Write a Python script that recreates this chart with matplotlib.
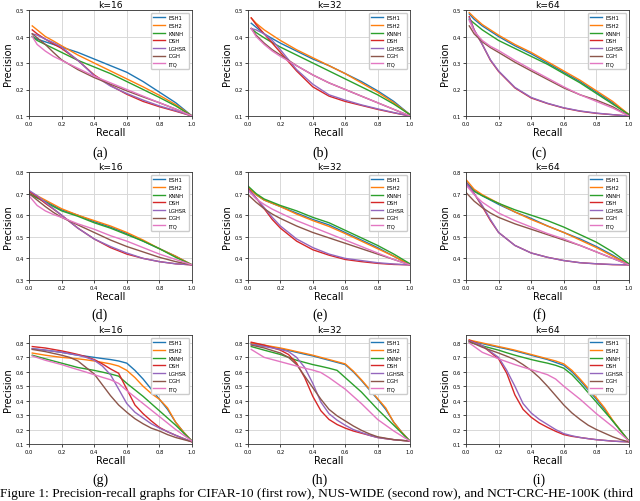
import matplotlib
matplotlib.use('Agg')
import matplotlib.pyplot as plt

plt.rcParams['font.family'] = 'DejaVu Sans'
plt.rcParams['xtick.labelsize'] = 3.8
plt.rcParams['ytick.labelsize'] = 3.8
plt.rcParams['axes.labelsize'] = 7
plt.rcParams['axes.titlesize'] = 6.6

methods = ['ESH1', 'ESH2', 'KNNH', 'DSH', 'LGHSR', 'DGH', 'ITQ']
colors = ['#1f77b4', '#ff7f0e', '#2ca02c', '#d62728', '#9467bd', '#8c564b', '#e377c2']

# recall grids per dataset (row)
recall_cifar = [0.02, 0.05, 0.1, 0.15, 0.2, 0.3, 0.4, 0.5, 0.6, 0.7, 0.8, 0.9, 1.0]
recall_nus = [0.0, 0.05, 0.1, 0.15, 0.2, 0.3, 0.4, 0.5, 0.6, 0.7, 0.8, 0.9, 1.0]
recall_nct = [0.02, 0.1, 0.2, 0.25, 0.3, 0.35, 0.4, 0.45, 0.5, 0.55, 0.6, 0.65,
              0.7, 0.75, 0.8, 0.85, 0.9, 0.95, 1.0]

# (a) CIFAR-10 k=16
prec_a = {
    'ESH1': [0.40, 0.39, 0.38, 0.37, 0.36, 0.34, 0.315, 0.29, 0.265, 0.23, 0.19, 0.15, 0.10],
    'ESH2': [0.44, 0.425, 0.40, 0.383, 0.365, 0.33, 0.30, 0.27, 0.24, 0.21, 0.178, 0.143, 0.10],
    'KNNH': [0.40, 0.385, 0.37, 0.355, 0.34, 0.31, 0.285, 0.26, 0.23, 0.20, 0.17, 0.138, 0.10],
    'DSH': [0.425, 0.41, 0.39, 0.372, 0.355, 0.31, 0.255, 0.215, 0.182, 0.155, 0.135, 0.118, 0.10],
    'LGHSR': [0.41, 0.405, 0.39, 0.377, 0.36, 0.31, 0.252, 0.213, 0.185, 0.16, 0.138, 0.12, 0.10],
    'DGH': [0.41, 0.395, 0.37, 0.34, 0.312, 0.275, 0.245, 0.22, 0.195, 0.172, 0.15, 0.126, 0.10],
    'ITQ': [0.40, 0.37, 0.345, 0.325, 0.31, 0.28, 0.25, 0.225, 0.20, 0.175, 0.15, 0.126, 0.10],
}
# (b) CIFAR-10 k=32
prec_b = {
    'ESH1': [0.45, 0.435, 0.41, 0.392, 0.375, 0.345, 0.315, 0.29, 0.26, 0.23, 0.195, 0.155, 0.105],
    'ESH2': [0.47, 0.45, 0.425, 0.405, 0.385, 0.35, 0.32, 0.29, 0.26, 0.225, 0.19, 0.15, 0.105],
    'KNNH': [0.43, 0.415, 0.395, 0.377, 0.36, 0.33, 0.30, 0.27, 0.24, 0.21, 0.18, 0.145, 0.105],
    'DSH': [0.47, 0.445, 0.41, 0.375, 0.34, 0.27, 0.21, 0.175, 0.155, 0.14, 0.125, 0.112, 0.10],
    'LGHSR': [0.43, 0.425, 0.41, 0.385, 0.35, 0.275, 0.22, 0.18, 0.16, 0.142, 0.127, 0.113, 0.10],
    'DGH': [0.43, 0.405, 0.375, 0.35, 0.33, 0.29, 0.255, 0.225, 0.20, 0.175, 0.15, 0.125, 0.10],
    'ITQ': [0.43, 0.40, 0.37, 0.345, 0.325, 0.29, 0.255, 0.225, 0.20, 0.175, 0.15, 0.125, 0.10],
}
# (c) CIFAR-10 k=64
prec_c = {
    'ESH1': [0.485, 0.465, 0.44, 0.42, 0.40, 0.365, 0.335, 0.30, 0.265, 0.23, 0.19, 0.15, 0.105],
    'ESH2': [0.49, 0.472, 0.445, 0.425, 0.405, 0.37, 0.34, 0.305, 0.27, 0.235, 0.195, 0.155, 0.105],
    'KNNH': [0.465, 0.45, 0.425, 0.405, 0.385, 0.355, 0.325, 0.295, 0.26, 0.225, 0.185, 0.145, 0.105],
    'DSH': [0.475, 0.425, 0.37, 0.31, 0.268, 0.206, 0.168, 0.147, 0.13, 0.118, 0.11, 0.105, 0.10],
    'LGHSR': [0.47, 0.425, 0.37, 0.312, 0.27, 0.208, 0.17, 0.148, 0.131, 0.119, 0.111, 0.105, 0.10],
    'DGH': [0.44, 0.41, 0.38, 0.358, 0.34, 0.303, 0.27, 0.238, 0.206, 0.18, 0.16, 0.135, 0.10],
    'ITQ': [0.46, 0.42, 0.385, 0.363, 0.347, 0.31, 0.276, 0.243, 0.21, 0.18, 0.155, 0.13, 0.10],
}
# (d) NUS-WIDE k=16
prec_d = {
    'ESH1': [0.70, 0.68, 0.665, 0.645, 0.625, 0.60, 0.57, 0.545, 0.515, 0.48, 0.445, 0.41, 0.37],
    'ESH2': [0.71, 0.69, 0.67, 0.65, 0.63, 0.60, 0.575, 0.55, 0.52, 0.485, 0.445, 0.41, 0.37],
    'KNNH': [0.70, 0.68, 0.66, 0.64, 0.62, 0.595, 0.565, 0.54, 0.51, 0.48, 0.445, 0.405, 0.37],
    'DSH': [0.71, 0.685, 0.655, 0.628, 0.60, 0.54, 0.49, 0.45, 0.42, 0.40, 0.385, 0.375, 0.37],
    'LGHSR': [0.715, 0.69, 0.66, 0.63, 0.60, 0.54, 0.49, 0.455, 0.425, 0.40, 0.385, 0.375, 0.37],
    'DGH': [0.70, 0.67, 0.64, 0.613, 0.59, 0.555, 0.52, 0.485, 0.455, 0.43, 0.405, 0.385, 0.37],
    'ITQ': [0.69, 0.645, 0.62, 0.603, 0.59, 0.56, 0.535, 0.505, 0.48, 0.45, 0.42, 0.395, 0.37],
}
# (e) NUS-WIDE k=32
prec_e = {
    'ESH1': [0.73, 0.695, 0.67, 0.655, 0.64, 0.61, 0.58, 0.555, 0.52, 0.485, 0.45, 0.41, 0.37],
    'ESH2': [0.73, 0.695, 0.67, 0.655, 0.64, 0.605, 0.575, 0.548, 0.515, 0.48, 0.445, 0.41, 0.37],
    'KNNH': [0.735, 0.70, 0.675, 0.66, 0.645, 0.62, 0.59, 0.565, 0.53, 0.495, 0.46, 0.42, 0.375],
    'DSH': [0.725, 0.68, 0.63, 0.58, 0.54, 0.48, 0.44, 0.415, 0.395, 0.385, 0.377, 0.372, 0.37],
    'LGHSR': [0.72, 0.68, 0.635, 0.59, 0.55, 0.49, 0.45, 0.42, 0.40, 0.39, 0.38, 0.374, 0.37],
    'DGH': [0.695, 0.66, 0.63, 0.605, 0.585, 0.55, 0.52, 0.495, 0.47, 0.445, 0.42, 0.395, 0.37],
    'ITQ': [0.715, 0.675, 0.65, 0.628, 0.61, 0.575, 0.545, 0.515, 0.485, 0.455, 0.425, 0.395, 0.37],
}
# (f) NUS-WIDE k=64
prec_f = {
    'ESH1': [0.755, 0.715, 0.69, 0.67, 0.65, 0.615, 0.585, 0.55, 0.52, 0.49, 0.455, 0.415, 0.37],
    'ESH2': [0.765, 0.72, 0.695, 0.675, 0.655, 0.615, 0.58, 0.55, 0.52, 0.485, 0.45, 0.41, 0.37],
    'KNNH': [0.745, 0.71, 0.69, 0.672, 0.655, 0.625, 0.60, 0.575, 0.545, 0.51, 0.475, 0.43, 0.375],
    'DSH': [0.75, 0.70, 0.64, 0.575, 0.52, 0.46, 0.425, 0.405, 0.39, 0.38, 0.375, 0.371, 0.37],
    'LGHSR': [0.75, 0.70, 0.645, 0.58, 0.52, 0.46, 0.425, 0.405, 0.39, 0.38, 0.375, 0.372, 0.37],
    'DGH': [0.705, 0.665, 0.635, 0.61, 0.59, 0.56, 0.535, 0.51, 0.485, 0.46, 0.43, 0.40, 0.37],
    'ITQ': [0.74, 0.695, 0.66, 0.635, 0.61, 0.575, 0.545, 0.515, 0.49, 0.46, 0.43, 0.40, 0.37],
}
# (g) NCT-CRC-HE-100K k=16
prec_g = {
    'ESH1': [0.76, 0.75, 0.735, 0.725, 0.715, 0.708, 0.70, 0.692, 0.685, 0.675, 0.66, 0.61, 0.55, 0.48, 0.41, 0.34, 0.25, 0.18, 0.12],
    'ESH2': [0.73, 0.715, 0.70, 0.695, 0.69, 0.683, 0.675, 0.665, 0.655, 0.64, 0.61, 0.56, 0.50, 0.45, 0.41, 0.35, 0.25, 0.18, 0.12],
    'KNNH': [0.715, 0.69, 0.66, 0.645, 0.63, 0.62, 0.61, 0.598, 0.585, 0.57, 0.52, 0.475, 0.43, 0.38, 0.33, 0.28, 0.23, 0.175, 0.12],
    'DSH': [0.775, 0.765, 0.745, 0.733, 0.72, 0.705, 0.685, 0.655, 0.62, 0.59, 0.48, 0.37, 0.31, 0.26, 0.215, 0.185, 0.16, 0.137, 0.115],
    'LGHSR': [0.76, 0.75, 0.735, 0.725, 0.715, 0.70, 0.68, 0.64, 0.58, 0.48, 0.38, 0.32, 0.28, 0.24, 0.21, 0.185, 0.16, 0.137, 0.115],
    'DGH': [0.755, 0.74, 0.715, 0.70, 0.675, 0.63, 0.585, 0.51, 0.435, 0.37, 0.32, 0.275, 0.24, 0.21, 0.19, 0.165, 0.145, 0.13, 0.115],
    'ITQ': [0.71, 0.68, 0.65, 0.632, 0.615, 0.598, 0.58, 0.562, 0.545, 0.52, 0.47, 0.425, 0.38, 0.335, 0.29, 0.245, 0.20, 0.16, 0.12],
}
# (h) NCT-CRC-HE-100K k=32
prec_h = {
    'ESH1': [0.795, 0.78, 0.76, 0.748, 0.735, 0.722, 0.71, 0.695, 0.68, 0.665, 0.65, 0.60, 0.54, 0.475, 0.41, 0.34, 0.25, 0.18, 0.12],
    'ESH2': [0.80, 0.785, 0.765, 0.753, 0.74, 0.728, 0.715, 0.70, 0.685, 0.67, 0.655, 0.605, 0.545, 0.48, 0.415, 0.35, 0.25, 0.18, 0.12],
    'KNNH': [0.775, 0.75, 0.72, 0.70, 0.68, 0.665, 0.65, 0.638, 0.625, 0.61, 0.56, 0.51, 0.46, 0.40, 0.34, 0.285, 0.23, 0.175, 0.12],
    'DSH': [0.805, 0.785, 0.75, 0.72, 0.66, 0.56, 0.43, 0.33, 0.27, 0.235, 0.21, 0.19, 0.175, 0.16, 0.145, 0.137, 0.13, 0.125, 0.12],
    'LGHSR': [0.79, 0.775, 0.755, 0.74, 0.70, 0.63, 0.52, 0.39, 0.31, 0.265, 0.23, 0.20, 0.18, 0.16, 0.145, 0.137, 0.13, 0.125, 0.12],
    'DGH': [0.785, 0.765, 0.73, 0.70, 0.65, 0.57, 0.49, 0.41, 0.34, 0.295, 0.26, 0.225, 0.195, 0.17, 0.15, 0.14, 0.13, 0.125, 0.12],
    'ITQ': [0.755, 0.70, 0.67, 0.655, 0.64, 0.625, 0.612, 0.595, 0.56, 0.52, 0.48, 0.43, 0.38, 0.325, 0.27, 0.23, 0.19, 0.155, 0.12],
}
# (i) NCT-CRC-HE-100K k=64
prec_i = {
    'ESH1': [0.815, 0.795, 0.77, 0.758, 0.745, 0.73, 0.715, 0.70, 0.685, 0.665, 0.645, 0.60, 0.54, 0.475, 0.41, 0.34, 0.26, 0.19, 0.12],
    'ESH2': [0.82, 0.80, 0.775, 0.763, 0.75, 0.735, 0.72, 0.705, 0.69, 0.675, 0.655, 0.61, 0.55, 0.485, 0.42, 0.35, 0.265, 0.19, 0.12],
    'KNNH': [0.805, 0.78, 0.75, 0.732, 0.715, 0.70, 0.685, 0.672, 0.66, 0.645, 0.625, 0.58, 0.52, 0.455, 0.39, 0.325, 0.26, 0.19, 0.12],
    'DSH': [0.82, 0.78, 0.69, 0.59, 0.44, 0.34, 0.285, 0.245, 0.215, 0.188, 0.165, 0.153, 0.145, 0.137, 0.13, 0.125, 0.12, 0.117, 0.115],
    'LGHSR': [0.815, 0.78, 0.70, 0.61, 0.50, 0.38, 0.315, 0.27, 0.235, 0.2, 0.172, 0.157, 0.145, 0.137, 0.13, 0.125, 0.12, 0.117, 0.115],
    'DGH': [0.81, 0.77, 0.73, 0.708, 0.685, 0.65, 0.61, 0.56, 0.50, 0.435, 0.37, 0.315, 0.27, 0.23, 0.20, 0.175, 0.15, 0.13, 0.115],
    'ITQ': [0.80, 0.735, 0.69, 0.67, 0.65, 0.632, 0.615, 0.598, 0.58, 0.55, 0.50, 0.455, 0.41, 0.36, 0.31, 0.265, 0.22, 0.17, 0.12],
}

titles = ['k=16', 'k=32', 'k=64']
sub_labels = ['(a)', '(b)', '(c)', '(d)', '(e)', '(f)', '(g)', '(h)', '(i)']
caption = ('Figure 1: Precision-recall graphs for CIFAR-10 (first row), '
           'NUS-WIDE (second row), and NCT-CRC-HE-100K (third')
rows = [
    (recall_cifar, [prec_a, prec_b, prec_c], (0.1, 0.5), [0.1, 0.2, 0.3, 0.4, 0.5]),
    (recall_nus, [prec_d, prec_e, prec_f], (0.3, 0.8), [0.3, 0.4, 0.5, 0.6, 0.7, 0.8]),
    (recall_nct, [prec_g, prec_h, prec_i], (0.1, 0.855), [0.1, 0.2, 0.3, 0.4, 0.5, 0.6, 0.7, 0.8]),
]

W, H = 640, 502
fig = plt.figure(figsize=(6.4, 5.02), dpi=100)

col_lr = [(29, 192), (248, 410), (466, 629)]
row_tb = [(11, 117), (173, 281), (336, 445)]
cap_x = [100, 320, 539]
cap_y = [153, 315, 480]

for r, (recall, panels, ylim, yticks) in enumerate(rows):
    top, bot = row_tb[r]
    for c, prec in enumerate(panels):
        left, right = col_lr[c]
        ax = fig.add_axes([left / W, 1 - bot / H, (right - left) / W, (bot - top) / H])
        for m, col in zip(methods, colors):
            ax.plot(recall, prec[m], color=col, lw=1.0, label=m)
        ax.set_xlim(0, 1)
        ax.set_ylim(*ylim)
        ax.set_yticks(yticks)
        ax.set_xticks([0, 0.2, 0.4, 0.6, 0.8, 1.0])
        ax.grid(True, color='#d8d8d8', lw=0.7)
        ax.set_axisbelow(True)
        ax.tick_params(length=2, width=0.5, pad=1.5)
        for s in ax.spines.values():
            s.set_linewidth(0.6)
            s.set_color('#333333')
        ax.set_title(titles[c], pad=2)
        ax.set_xlabel('Recall', labelpad=1)
        ax.set_ylabel('Precision', labelpad=2)
        ax.legend(loc='upper right', fontsize=3.8, handlelength=2.2,
                  borderpad=0.5, labelspacing=0.5, framealpha=1,
                  edgecolor='#cccccc', fancybox=True)
        fig.text(cap_x[c] / W, 1 - cap_y[r] / H, sub_labels[r * 3 + c],
                 family='Liberation Serif', fontsize=10, ha='center', va='center')

fig.text(0.0, 1 - 488 / H, caption,
         family='Liberation Serif', fontsize=9.6, ha='left', va='top')

fig.savefig('out.png', dpi=100)
